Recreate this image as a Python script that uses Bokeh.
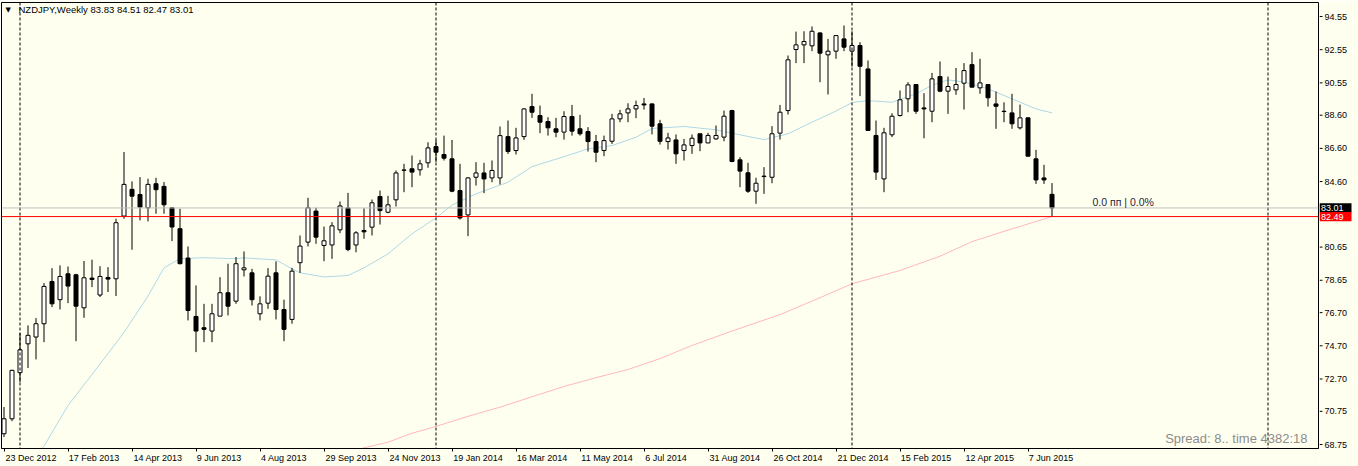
from bokeh.plotting import figure
from bokeh.layouts import row
from bokeh.models import Range1d, FixedTicker, Span, Label, ColumnDataSource, LinearAxis
from bokeh.core.properties import value
from bokeh.embed import file_html
from bokeh.resources import INLINE

# ---------------- data (weekly NZDJPY, bar index 0 = 23 Dec 2012) ----------------
opens = [69.40, 70.30, 73.08, 74.82, 75.23, 76.03, 78.58, 77.48, 79.04, 78.98,
         76.99, 78.78, 77.76, 78.82, 78.74, 82.52, 84.13, 83.82, 83.02, 84.47,
         84.31, 83.02, 81.76, 79.99, 76.47, 75.79, 75.59, 76.49, 77.90, 77.39,
         79.28, 79.10, 76.63, 77.27, 79.10, 76.89, 76.29, 79.71, 80.95, 82.82,
         80.75, 80.78, 81.69, 83.01, 80.78, 81.65, 81.85, 83.70, 82.75, 83.50,
         85.28, 85.37, 85.31, 85.73, 86.71, 86.23, 85.97, 84.06, 82.59, 84.86,
         85.12, 84.82, 84.82, 87.31, 86.47, 87.31, 89.12, 88.58, 88.22, 87.78,
         87.58, 88.52, 87.78, 87.62, 87.01, 86.47, 87.03, 88.38, 88.74, 88.98,
         89.28, 89.28, 88.08, 87.01, 87.11, 86.47, 86.77, 87.48, 86.93, 87.17,
         87.28, 88.88, 85.91, 85.13, 84.02, 84.90, 84.86, 87.52, 88.88, 92.56,
         92.84, 92.78, 93.56, 92.24, 92.46, 93.20, 92.46, 92.80, 91.39, 87.38,
         84.76, 87.42, 88.58, 89.59, 90.45, 89.04, 88.84, 90.93, 90.05, 90.13,
         90.53, 91.65, 90.25, 90.45, 89.28, 88.84, 88.74, 87.84, 88.44, 85.97,
         84.82, 83.83]
highs = [71.01, 73.26, 75.47, 75.93, 76.37, 78.48, 79.38, 79.55, 79.48, 79.04,
         79.81, 79.89, 79.50, 79.44, 82.36, 86.38, 84.61, 84.87, 84.77, 84.83,
         84.57, 83.06, 82.96, 80.69, 78.34, 77.23, 77.23, 78.84, 79.65, 80.05,
         80.39, 79.34, 77.68, 79.38, 79.79, 77.48, 79.40, 81.35, 83.62, 83.02,
         81.89, 82.15, 83.40, 83.92, 81.61, 82.99, 83.52, 84.06, 83.74, 85.27,
         85.67, 86.17, 85.91, 86.97, 87.11, 87.37, 87.11, 85.67, 84.86, 85.77,
         85.73, 85.87, 87.92, 88.28, 87.84, 89.02, 89.89, 89.18, 88.48, 88.44,
         88.84, 89.22, 88.62, 87.88, 87.41, 87.37, 88.68, 88.92, 89.32, 89.48,
         89.64, 89.32, 88.32, 87.54, 87.44, 87.17, 87.44, 87.48, 87.54, 87.98,
         88.88, 88.92, 86.07, 85.73, 84.83, 85.47, 87.94, 89.22, 92.20, 93.64,
         93.66, 93.95, 93.60, 93.20, 93.40, 94.01, 93.66, 93.00, 91.90, 88.28,
         87.84, 88.72, 90.09, 90.59, 90.45, 89.93, 91.15, 91.84, 90.93, 91.45,
         91.74, 92.40, 92.00, 90.45, 90.03, 89.38, 89.89, 89.24, 88.48, 86.51,
         85.61, 84.51]
lows = [69.20, 70.16, 72.51, 73.36, 73.88, 74.92, 77.03, 76.89, 77.27, 74.98,
        76.39, 78.24, 77.64, 77.94, 77.70, 82.36, 80.49, 82.26, 82.20, 82.66,
        82.66, 81.01, 79.61, 76.23, 74.32, 74.92, 74.92, 76.49, 76.53, 77.23,
        78.88, 77.13, 76.23, 76.93, 76.29, 74.98, 76.03, 79.10, 80.69, 80.85,
        79.80, 79.94, 81.49, 80.40, 80.34, 81.15, 81.35, 82.01, 82.69, 83.10,
        83.96, 84.26, 84.96, 85.43, 85.77, 85.87, 83.96, 82.31, 81.31, 84.36,
        83.90, 84.56, 84.42, 86.27, 86.23, 87.11, 88.44, 87.52, 87.37, 87.27,
        87.13, 87.37, 87.37, 86.41, 85.77, 86.13, 86.87, 88.18, 88.18, 88.42,
        88.94, 87.44, 86.83, 86.53, 85.67, 85.87, 86.27, 86.43, 86.91, 87.13,
        87.03, 85.77, 84.26, 83.92, 83.26, 83.86, 84.50, 87.13, 88.64, 91.74,
        91.74, 92.46, 90.59, 89.85, 92.00, 92.46, 91.53, 89.75, 87.68, 84.70,
        83.96, 87.28, 88.52, 88.78, 88.68, 87.21, 88.18, 89.99, 88.68, 89.83,
        88.94, 90.29, 89.89, 89.12, 87.78, 88.18, 87.78, 87.74, 86.13, 84.46,
        84.46, 82.47]
closes = [70.30, 73.22, 74.46, 75.33, 76.03, 78.28, 77.23, 78.88, 78.30, 77.09,
          78.80, 78.70, 78.88, 78.72, 82.12, 84.43, 83.72, 83.06, 84.43, 84.11,
          83.20, 81.86, 79.65, 76.83, 75.59, 75.69, 76.63, 77.90, 77.09, 79.65,
          79.40, 77.48, 77.23, 78.90, 76.89, 75.69, 79.20, 80.71, 83.02, 81.25,
          81.03, 81.93, 83.13, 80.50, 81.51, 81.57, 83.32, 82.85, 83.20, 85.12,
          85.30, 85.17, 85.67, 86.63, 86.37, 86.01, 84.02, 82.41, 84.82, 85.12,
          84.76, 85.27, 87.37, 86.41, 87.23, 88.98, 88.78, 88.18, 87.84, 87.58,
          88.52, 87.64, 87.48, 87.01, 86.37, 87.07, 88.38, 88.68, 88.98, 89.18,
          89.22, 87.94, 87.03, 87.23, 86.27, 86.81, 87.21, 86.93, 87.38, 87.38,
          88.54, 85.81, 85.23, 84.02, 84.50, 84.93, 87.48, 88.78, 91.94, 92.84,
          93.04, 93.66, 92.34, 92.46, 93.40, 92.70, 92.80, 91.55, 87.68, 85.17,
          87.54, 88.54, 89.53, 90.43, 88.84, 88.98, 90.79, 90.05, 90.33, 90.45,
          91.29, 90.29, 90.55, 89.65, 89.14, 88.82, 88.08, 88.44, 86.13, 84.70,
          84.70, 83.01]

# moving averages (bar index, value)
ma_fast_idx = [4, 5, 8, 12, 15, 18, 20, 22, 25, 29, 30, 34, 36, 37, 40, 43, 45, 48,
               51, 54, 56, 59, 63, 66, 70, 73, 76, 79, 81, 85, 89, 93, 95, 98, 101,
               104, 106, 108, 111, 114, 116, 118, 120, 123, 126, 129, 131]
ma_fast_val = [68.10, 68.65, 71.10, 73.60, 75.50, 77.70, 79.40, 79.95, 80.01, 79.95,
               80.00, 79.88, 79.34, 79.10, 78.85, 78.94, 79.40, 80.24, 81.45, 82.41,
               83.18, 83.86, 84.56, 85.50, 86.10, 86.57, 86.77, 87.27, 87.80, 87.92,
               87.72, 87.32, 87.13, 87.48, 88.18, 88.85, 89.36, 89.48, 89.38, 89.89,
               90.40, 90.73, 90.60, 90.19, 89.59, 88.98, 88.74]
ma_slow_idx = [43, 45, 48, 51, 54, 58, 62, 66, 70, 74, 78, 82, 86, 91, 97, 102,
               106, 112, 117, 121, 125, 131]
ma_slow_val = [68.25, 68.55, 68.89, 69.43, 69.84, 70.45, 71.00, 71.63, 72.25, 72.78,
               73.27, 73.93, 74.72, 75.59, 76.58, 77.60, 78.44, 79.24, 80.10, 80.98,
               81.60, 82.49]

bid_price = 83.01
level_price = 82.49

date_tick_idx = [0, 8, 16, 24, 32, 40, 48, 56, 64, 72, 80, 88, 96, 104, 112, 120, 128]
date_tick_labels = ["23 Dec 2012", "17 Feb 2013", "14 Apr 2013", "9 Jun 2013",
                    "4 Aug 2013", "29 Sep 2013", "24 Nov 2013", "19 Jan 2014",
                    "16 Mar 2014", "11 May 2014", "6 Jul 2014", "31 Aug 2014",
                    "26 Oct 2014", "21 Dec 2014", "15 Feb 2015", "12 Apr 2015",
                    "7 Jun 2015"]
year_sep_idx = [2, 54, 106, 158]
price_ticks = [94.55, 92.55, 90.55, 88.60, 86.60, 84.60, 80.65, 78.65, 76.70,
               74.70, 72.70, 70.75, 68.75]
title_text = "NZDJPY,Weekly  83.83 84.51 82.47 83.01"

# ---------------- layout constants ----------------
BG = "#fffff0"
FONT = "Liberation Sans"
PXB = 8.0          # pixels per bar
X0 = -0.3125
Y_TOP, Y_BOT = 95.394, 68.51
PPU = 446.0 / (Y_TOP - Y_BOT)   # pixels per price unit (frame 2..448)

def px_to_x(px):
    return X0 + (px - 1) / PXB

def py_to_y(py):
    return Y_TOP - (py - 2) / PPU

yr = Range1d(Y_BOT, Y_TOP)

# ---------------- main chart ----------------
p = figure(width=1319, height=466, output_backend="svg", toolbar_location=None,
           x_range=Range1d(X0, X0 + 1317 / PXB), y_range=yr,
           y_axis_location=None, min_border_left=1, min_border_right=1,
           min_border_top=2, min_border_bottom=18)
p.background_fill_color = BG
p.border_fill_color = BG
p.outline_line_color = "black"
p.outline_line_width = 1
p.grid.visible = False

for s in year_sep_idx:
    p.add_layout(Span(location=s, dimension="height", line_color="black",
                      line_width=1, line_dash="3 2"))

p.line(ma_slow_idx, ma_slow_val, line_color="#ffb6c1", line_width=1)
p.line(ma_fast_idx, ma_fast_val, line_color="#add8e6", line_width=1)

p.add_layout(Span(location=bid_price, dimension="width", line_color="#c0c0c0", line_width=1))
p.add_layout(Span(location=level_price, dimension="width", line_color="#ff0000", line_width=1))

idx = list(range(len(opens)))
src = ColumnDataSource(dict(
    x=idx, high=highs, low=lows,
    top=[max(o, c) for o, c in zip(opens, closes)],
    bottom=[min(o, c) for o, c in zip(opens, closes)],
    fill=["white" if c >= o else "black" for o, c in zip(opens, closes)],
))
p.segment(x0="x", y0="low", x1="x", y1="high", source=src, line_color="black", line_width=1)
p.vbar(x="x", width=0.5, top="top", bottom="bottom", source=src,
       fill_color="fill", line_color="black", line_width=1)

# x axis: tick marks at the bars
xax = p.xaxis[0]
xax.ticker = FixedTicker(ticks=date_tick_idx)
xax.major_label_overrides = {i: "" for i in date_tick_idx}
xax.major_label_text_font_size = "0px"
xax.major_label_standoff = 0
xax.major_tick_out = 3
xax.major_tick_in = 0
xax.minor_tick_out = 0
xax.minor_tick_in = 0
xax.axis_line_color = "black"
xax.major_tick_line_color = "black"

# second x axis: date texts starting just right of each tick
CW = {' ': 278, 'D': 722, 'e': 556, 'c': 500, 'F': 611, 'b': 556, 'A': 667, 'p': 556,
      'r': 333, 'J': 500, 'u': 556, 'n': 556, 'g': 556, 'S': 667, 'N': 722, 'o': 556,
      'v': 500, 'a': 556, 'M': 833, 'y': 500, 'l': 222, 'O': 778, 't': 278}
def text_w(s, size):
    return sum(CW.get(ch, 556) for ch in s) * size / 1000.0

lab_pos, lab_over = [], {}
for i, lab in zip(date_tick_idx, date_tick_labels):
    pos = i + round(text_w(lab, 9) / 2 + 1) / PXB
    lab_pos.append(pos)
    lab_over[pos] = lab
lab_ax = LinearAxis(ticker=FixedTicker(ticks=lab_pos), major_label_overrides=lab_over,
                    axis_line_color=None, major_tick_line_color=None,
                    minor_tick_line_color=None, major_tick_out=0, major_tick_in=0,
                    major_label_standoff=1, major_label_text_font=FONT,
                    major_label_text_font_size="9px", major_label_text_color="black")
p.add_layout(lab_ax, "below")

# title
p.add_layout(Label(x=px_to_x(5), y=py_to_y(9), text="\u25bc", text_align="left",
                   text_baseline="middle", text_font="DejaVu Sans", text_font_size="7px",
                   text_color="black"))
p.add_layout(Label(x=px_to_x(18), y=py_to_y(8.5), text=title_text, text_align="left",
                   text_baseline="middle", text_font=FONT, text_font_size="9.5px",
                   text_color="black"))

p.add_layout(Label(x=px_to_x(1092), y=py_to_y(201), text="0.0 пп | 0.0%",
                   text_align="left", text_baseline="middle", text_font=FONT,
                   text_font_size="10.5px", text_color="#1e1e3c"))

p.add_layout(Label(x=px_to_x(1307), y=py_to_y(438), text="Spread: 8.. time 4382:18",
                   text_align="right", text_baseline="middle", text_font=FONT,
                   text_font_size="13px", text_color="#8c8c8c"))

# ---------------- price scale strip (right), same price range ----------------
q = figure(width=39, height=466, output_backend="svg", toolbar_location=None,
           x_range=Range1d(0, 39), y_range=yr,
           x_axis_location=None, y_axis_location=None,
           min_border_left=0, min_border_right=0, min_border_top=2, min_border_bottom=18)
q.background_fill_color = BG
q.border_fill_color = BG
q.outline_line_color = None
q.grid.visible = False

q.segment(x0=[0] * len(price_ticks), y0=price_ticks, x1=[3] * len(price_ticks),
          y1=price_ticks, line_color="black", line_width=1)
q.text(x=[5] * len(price_ticks), y=price_ticks, text=["%.2f" % v for v in price_ticks],
       text_font=value(FONT), text_font_size=value("9px"), text_color="black",
       text_align="left", text_baseline="middle")

box_prices = [bid_price, level_price]
box_colors = ["black", "#ff0000"]
half = 4.6 / PPU
q.quad(left=[0, 0], right=[32, 32], top=[v + half for v in box_prices],
       bottom=[v - half for v in box_prices], fill_color=box_colors, line_color=None)
q.text(x=[1.5, 1.5], y=box_prices, text=["%.2f" % v for v in box_prices],
       text_font=value(FONT), text_font_size=value("9px"), text_color="white",
       text_align="left", text_baseline="middle")

layout = row(p, q, spacing=0)
open("out.html", "w").write(file_html(layout, INLINE))
